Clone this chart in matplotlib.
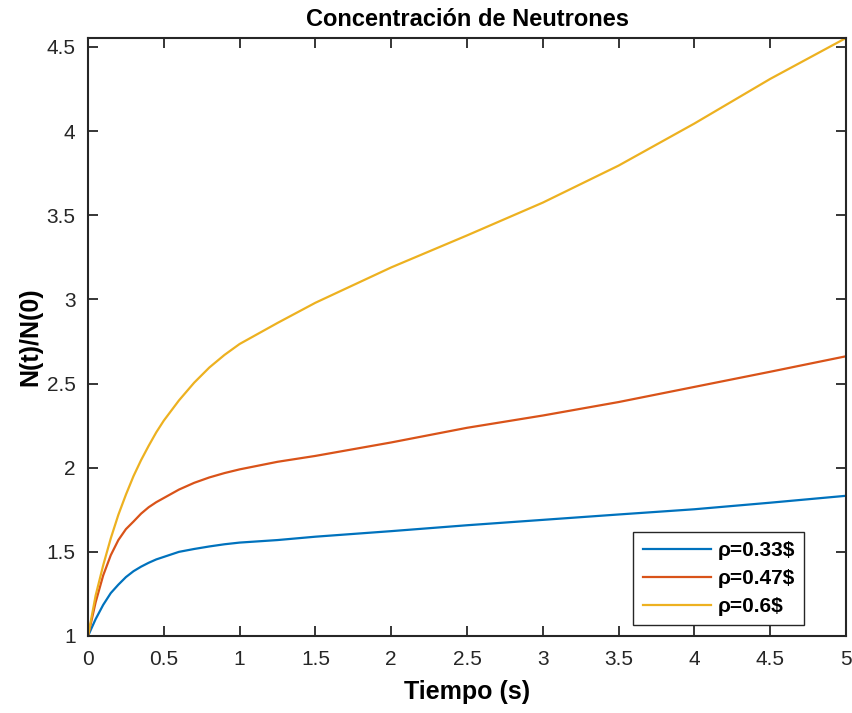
import matplotlib
matplotlib.use("Agg")
import matplotlib.pyplot as plt

plt.rcParams['font.family'] = ['Liberation Sans', 'DejaVu Sans']

# tiempo (s) y N(t)/N(0)
t = [0, 0.05, 0.1, 0.15, 0.2, 0.25, 0.3, 0.35, 0.4, 0.45, 0.5, 0.6, 0.7, 0.8, 0.9, 1.0,
     1.25, 1.5, 2.0, 2.5, 3.0, 3.5, 4.0, 4.5, 5.0]
n_033 = [1.0, 1.10, 1.185, 1.255, 1.305, 1.35, 1.385, 1.412, 1.435, 1.455, 1.47, 1.50, 1.517, 1.532, 1.545, 1.555,
         1.57, 1.59, 1.623, 1.658, 1.69, 1.722, 1.753, 1.792, 1.833]
n_047 = [1.0, 1.2, 1.36, 1.48, 1.57, 1.635, 1.68, 1.727, 1.765, 1.795, 1.82, 1.87, 1.91, 1.942, 1.968, 1.99,
         2.035, 2.07, 2.15, 2.237, 2.31, 2.39, 2.48, 2.57, 2.662]
n_060 = [1.0, 1.24, 1.42, 1.58, 1.72, 1.84, 1.95, 2.045, 2.13, 2.21, 2.28, 2.40, 2.505, 2.595, 2.67, 2.735,
         2.86, 2.98, 3.19, 3.38, 3.575, 3.795, 4.045, 4.31, 4.553]
labels = ['ρ=0.33$', 'ρ=0.47$', 'ρ=0.6$']
colors = ['#0072BD', '#D95319', '#EDB120']

fig = plt.figure(figsize=(8.53, 7.13), dpi=100)
ax = fig.add_axes([0.1032, 0.108, 0.8886, 0.8387])

for y, lab, c in zip([n_033, n_047, n_060], labels, colors):
    ax.plot(t, y, color=c, lw=1.6, label=lab)

ax.set_xlim(0, 5)
ax.set_ylim(1, 4.553)
ax.set_xticks([0, 0.5, 1, 1.5, 2, 2.5, 3, 3.5, 4, 4.5, 5])
ax.set_xticklabels(['0', '0.5', '1', '1.5', '2', '2.5', '3', '3.5', '4', '4.5', '5'])
ax.set_yticks([1, 1.5, 2, 2.5, 3, 3.5, 4, 4.5])
ax.set_yticklabels(['1', '1.5', '2', '2.5', '3', '3.5', '4', '4.5'])

dark = '#262626'
for s in ax.spines.values():
    s.set_color(dark)
    s.set_linewidth(1.5)
ax.tick_params(direction='in', length=7, width=1.3, color=dark, labelcolor=dark,
               labelsize=15, top=True, right=True)
ax.tick_params(axis='x', pad=10)
ax.tick_params(axis='y', pad=9)

ax.set_title('Concentración de Neutrones', fontsize=17, fontweight='bold', pad=9)
ax.set_xlabel('Tiempo (s)', fontsize=18, fontweight='bold', labelpad=8)
ax.set_ylabel('N(t)/N(0)', fontsize=18, fontweight='bold', labelpad=3)

leg = ax.legend(loc='lower right', bbox_to_anchor=(0.945, 0.018), fancybox=False,
                edgecolor=dark, framealpha=1, prop={'weight': 'bold', 'size': 15},
                handlelength=3.3, borderpad=0.45, labelspacing=0.42, handletextpad=0.3,
                borderaxespad=0)
leg.get_frame().set_linewidth(1.0)

fig.savefig('out.png', dpi=100)
